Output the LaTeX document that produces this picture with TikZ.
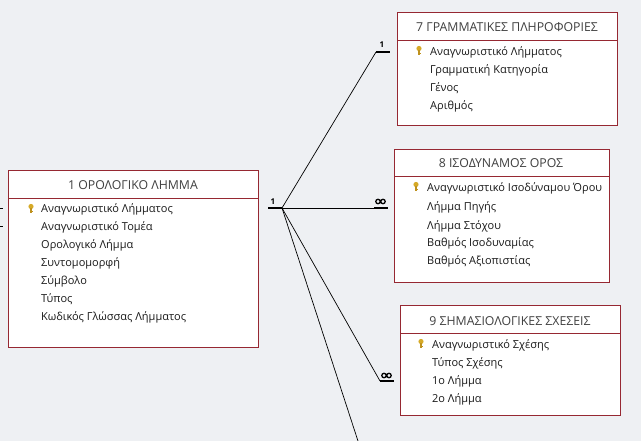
\documentclass[tikz,border=0pt]{standalone}
\usepackage{fontspec}
\setmainfont{Open Sans}
\definecolor{bgc}{RGB}{238,240,243}
\definecolor{keyA}{RGB}{214,170,40}
\definecolor{keyB}{RGB}{190,145,30}
\definecolor{brd}{RGB}{150,40,50}
\begin{document}
\begin{tikzpicture}[x=1pt,y=-1pt,
  tbl/.style={draw=brd, fill=white, line width=0.8pt},
  hd/.style={draw=brd, line width=0.6pt},
  ttl/.style={font=\fontsize{12.3}{14}\selectfont, text=black!75, anchor=center, inner sep=0},
  fld/.style={font=\fontsize{11}{13}\selectfont, text=black!90, anchor=west, inner sep=0},
  conn/.style={draw=black, line width=0.7pt},
  bar/.style={draw=black, line width=2.4pt},
  one/.style={font=\bfseries\fontsize{8}{9}\selectfont, inner sep=0}]
\fill[bgc] (0,0) rectangle (641,441);
\useasboundingbox (0,0) rectangle (641,441);
\newcommand{\keyicon}[2]{%
  \fill[keyA] (#1,#2-2.5) circle (2.6);
  \draw[keyB, line width=1.2pt] (#1,#2-1) -- (#1,#2+4) (#1,#2+2.5)--(#1+1.8,#2+2.5);}
% Table 1
\draw[tbl] (8,170) rectangle (258,347); \draw[hd] (8,198) -- (258,198);
\node[ttl] (t1) at (133,185) {1 ΟΡΟΛΟΓΙΚΟ ΛΗΜΜΑ};
\keyicon{31}{209}
\node[fld] (a1) at (41,209) {Αναγνωριστικό Λήμματος};
\node[fld] (a2) at (41,227) {Αναγνωριστικό Τομέα};
\node[fld] at (41,245) {Ορολογικό Λήμμα};
\node[fld] at (41,263) {Συντομομορφή};
\node[fld] at (41,281) {Σύμβολο};
\node[fld] at (41,299) {Τύπος};
\node[fld] at (41,317) {Κωδικός Γλώσσας Λήμματος};
% Table 7
\draw[tbl] (397,12) rectangle (617,125); \draw[hd] (397,40) -- (617,40);
\node[ttl] at (507,27) {7 ΓΡΑΜΜΑΤΙΚΕΣ ΠΛΗΡΟΦΟΡΙΕΣ};
\keyicon{419}{51}
\node[fld] at (430,52) {Αναγνωριστικό Λήμματος};
\node[fld] at (430,70) {Γραμματική Κατηγορία};
\node[fld] at (430,88) {Γένος};
\node[fld] at (430,106) {Αριθμός};
% Table 8
\draw[tbl] (394,149) rectangle (609,282); \draw[hd] (394,176) -- (609,176);
\node[ttl] at (501,163) {8 ΙΣΟΔΥΝΑΜΟΣ ΟΡΟΣ};
\keyicon{416}{187}
\node[fld] at (427,188) {Αναγνωριστικό Ισοδύναμου Όρου};
\node[fld] at (427,207) {Λήμμα Πηγής};
\node[fld] at (427,226) {Λήμμα Στόχου};
\node[fld] at (427,243) {Βαθμός Ισοδυναμίας};
\node[fld] at (427,261) {Βαθμός Αξιοπιστίας};
% Table 9
\draw[tbl] (400,305) rectangle (620,415); \draw[hd] (400,333) -- (620,333);
\node[ttl] at (510,321) {9 ΣΗΜΑΣΙΟΛΟΓΙΚΕΣ ΣΧΕΣΕΙΣ};
\keyicon{421}{344}
\node[fld] at (432,345) {Αναγνωριστικό Σχέσης};
\node[fld] at (432,363) {Τύπος Σχέσης};
\node[fld] at (432,381) {1ο Λήμμα};
\node[fld] at (432,399) {2ο Λήμμα};
% connectors
\coordinate (h) at (282,208);
\coordinate (hs) at (268,208);
\coordinate (p7) at (376,52); \coordinate (e7) at (390,52);
\coordinate (p8) at (374,208); \coordinate (e8) at (388,208);
\coordinate (p9) at (380,381); \coordinate (e9) at (394,381);
\coordinate (off) at (358,441);
\draw[bar] (hs) -- (h);
\node[one] at (273,202) {1};
\draw[conn] (h) -- (p7); \draw[bar] (p7) -- (e7); \node[one] at (382,45) {1};
\draw[conn] (h) -- (p8); \draw[bar] (p8) -- (e8);
\draw[black, line width=1.3pt] (378,201.5) circle (2.2) (383,201.5) circle (2.2);
\draw[conn] (h) -- (p9); \draw[bar] (p9) -- (e9);
\draw[black, line width=1.3pt] (384,375.5) circle (2.2) (389,375.5) circle (2.2);
\draw[conn] (h) -- (off);
\coordinate (l1) at (0,209); \coordinate (l2) at (0,227);
\coordinate (m1) at (3,209); \coordinate (m2) at (3,227);
\draw[black, line width=1pt] (l1) -- (m1) (l2) -- (m2);
\end{tikzpicture}
\end{document}
